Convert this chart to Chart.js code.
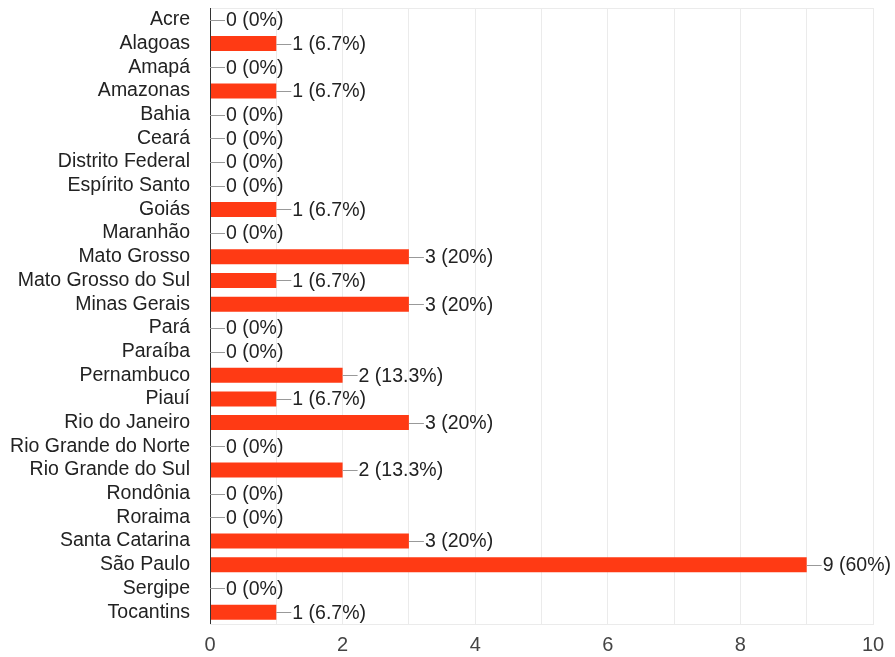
<!DOCTYPE html>
<html>
<head>
<meta charset="utf-8">
<script src="https://cdn.jsdelivr.net/npm/chart.js@4/dist/chart.umd.min.js"></script>
<style>
  html, body { margin: 0; padding: 0; background: #fff; }
  #wrap { width: 895px; height: 657px; }
</style>
</head>
<body>
<div id="wrap"><canvas id="states"></canvas></div>
<script>
// Answers per state (checkbox question, 15 respondents)
const states = [
  'Acre', 'Alagoas', 'Amapá', 'Amazonas', 'Bahia', 'Ceará', 'Distrito Federal',
  'Espírito Santo', 'Goiás', 'Maranhão', 'Mato Grosso', 'Mato Grosso do Sul',
  'Minas Gerais', 'Pará', 'Paraíba', 'Pernambuco', 'Piauí', 'Rio do Janeiro',
  'Rio Grande do Norte', 'Rio Grande do Sul', 'Rondônia', 'Roraima',
  'Santa Catarina', 'São Paulo', 'Sergipe', 'Tocantins',
];
const counts = [0, 1, 0, 1, 0, 0, 0, 0, 1, 0, 3, 1, 3, 0, 0, 2, 1, 3, 0, 2, 0, 0, 3, 9, 0, 1];
const respondents = 15;
const xTicks = [0, 2, 4, 6, 8, 10];

const FONT = '"Liberation Sans", Arial, sans-serif';
const SIZE = 19.5;

const pct = (n) => {
  const p = Math.round((n / respondents) * 1000) / 10;
  return n + ' (' + p + '%)';
};

// Frame, dark left axis and the "—N (x%)" labels next to every bar
const barLabels = {
  id: 'barLabels',
  beforeDatasetsDraw(chart) {
    const { ctx, chartArea: a } = chart;
    ctx.save();
    ctx.strokeStyle = '#ebebeb';
    ctx.lineWidth = 1;
    ctx.strokeRect(a.left + 0.5, a.top + 0.5, a.right - a.left, a.bottom - a.top);
    ctx.restore();
  },
  afterDatasetsDraw(chart) {
    const { ctx, chartArea: a } = chart;
    const meta = chart.getDatasetMeta(0);
    ctx.save();
    ctx.strokeStyle = '#333';
    ctx.beginPath();
    ctx.moveTo(a.left + 0.5, a.top);
    ctx.lineTo(a.left + 0.5, a.bottom);
    ctx.stroke();

    ctx.font = SIZE + 'px ' + FONT;
    ctx.fillStyle = '#222';
    ctx.textBaseline = 'middle';
    meta.data.forEach((bar, i) => {
      const x = bar.x;
      const y = Math.round(bar.y) + 0.5;
      ctx.strokeStyle = '#999';
      ctx.beginPath();
      ctx.moveTo(x, y);
      ctx.lineTo(x + 15, y);
      ctx.stroke();
      ctx.fillText(pct(counts[i]), x + 16, bar.y + 1);
    });
    ctx.restore();
  },
};

new Chart(document.getElementById('states'), {
  type: 'bar',
  data: {
    labels: states,
    datasets: [{
      data: counts,
      backgroundColor: '#ff3a14',
      barPercentage: 0.72,
      categoryPercentage: 0.88,
    }],
  },
  options: {
    indexAxis: 'y',
    responsive: true,
    maintainAspectRatio: false,
    animation: false,
    layout: { padding: { top: 8, right: 22, left: 0, bottom: 0 } },
    plugins: { legend: { display: false }, tooltip: { enabled: false } },
    scales: {
      x: {
        min: 0,
        max: 10,
        afterFit(scale) {
          scale.height = 33;
          scale.paddingLeft = 0;
          scale.paddingRight = 0;
        },
        afterBuildTicks(scale) {
          scale.ticks = Array.from({ length: 11 }, (_, v) => ({ value: v }));
        },
        ticks: {
          padding: 9,
          color: '#444',
          font: { family: FONT, size: 20 },
          callback: (v) => (xTicks.includes(v) ? v : ''),
        },
        grid: { color: '#ebebeb', drawTicks: false },
        border: { display: false },
      },
      y: {
        afterFit(scale) {
          scale.width = 210;
          scale.paddingTop = 0;
          scale.paddingBottom = 0;
        },
        ticks: {
          padding: 20,
          color: '#222',
          autoSkip: false,
          font: { family: FONT, size: SIZE },
        },
        grid: { display: false, drawTicks: false },
        border: { display: false },
      },
    },
  },
  plugins: [barLabels],
});
</script>
</body>
</html>
